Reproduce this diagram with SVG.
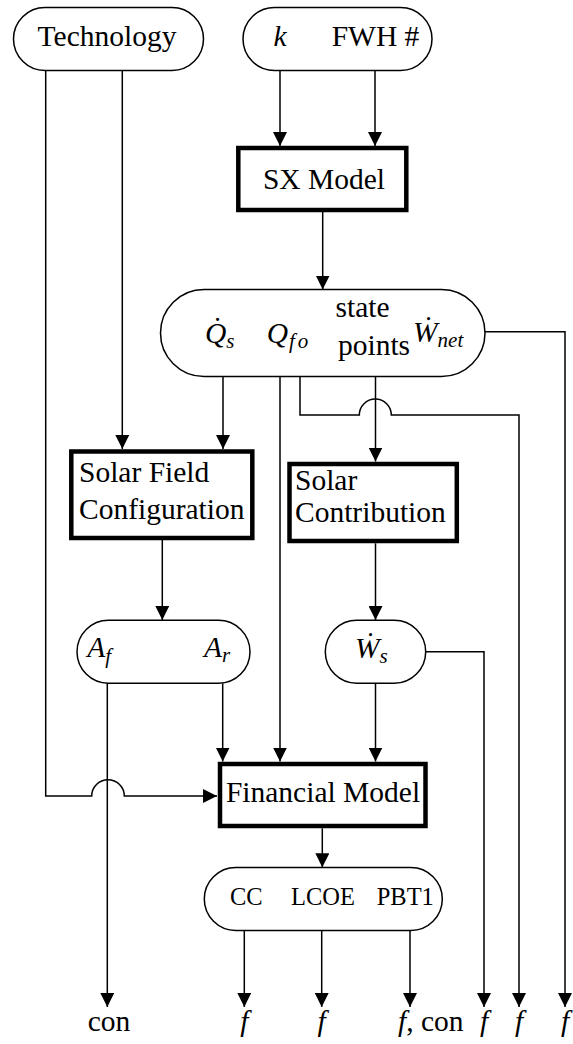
<svg xmlns="http://www.w3.org/2000/svg" width="573" height="1044" viewBox="0 0 573 1044">
<style>
text{font-family:'Liberation Serif','DejaVu Serif',serif;font-size:29.5px;fill:#000}
.it{font-style:italic}
.sub{font-size:21px;font-style:italic}
.sm{font-size:24.5px}
.term{fill:#fff;stroke:#000;stroke-width:1.5}
.proc{fill:#fff;stroke:#000;stroke-width:4.5}
.c{fill:none;stroke:#000;stroke-width:1.5}
.m{text-anchor:middle}
</style>
<defs>
<marker id="ar" markerUnits="userSpaceOnUse" markerWidth="14" markerHeight="14" viewBox="0 0 13 13" refX="13" refY="6.5" orient="auto">
<path d="M0,0 L13,6.5 L0,13 z" fill="#000"/>
</marker>
</defs>
<g id="connectors">
<path class="c" d="M45.7,70.7 V796 H91.7 A16.3,16.3 0 0 1 124.3,796 H217" marker-end="url(#ar)"/>
<path class="c" d="M122.3,70.7 V449" marker-end="url(#ar)"/>
<path class="c" d="M280,70.7 V146" marker-end="url(#ar)"/>
<path class="c" d="M375,70.7 V146" marker-end="url(#ar)"/>
<path class="c" d="M322.7,212 V289.5" marker-end="url(#ar)"/>
<path class="c" d="M223,376.7 V449" marker-end="url(#ar)"/>
<path class="c" d="M280,376.7 V761.5" marker-end="url(#ar)"/>
<path class="c" d="M300,376.7 V415 H359.3 A16,16 0 0 1 391.3,415 H519 V1007" marker-end="url(#ar)"/>
<path class="c" d="M375.5,376.7 V461.5" marker-end="url(#ar)"/>
<path class="c" d="M485,331.7 H565 V1007" marker-end="url(#ar)"/>
<path class="c" d="M162.3,540 V620" marker-end="url(#ar)"/>
<path class="c" d="M107.3,683.3 V1007" marker-end="url(#ar)"/>
<path class="c" d="M222.7,683.3 V761.5" marker-end="url(#ar)"/>
<path class="c" d="M375.5,543.3 V620" marker-end="url(#ar)"/>
<path class="c" d="M375.5,683.3 V761.5" marker-end="url(#ar)"/>
<path class="c" d="M425.7,651.7 H484 V1007" marker-end="url(#ar)"/>
<path class="c" d="M322.3,828.3 V867.3" marker-end="url(#ar)"/>
<path class="c" d="M244.3,930.7 V1007" marker-end="url(#ar)"/>
<path class="c" d="M321.7,930.7 V1007" marker-end="url(#ar)"/>
<path class="c" d="M410,930.7 V1007" marker-end="url(#ar)"/>
</g>
<g id="technology">
<rect class="term" x="13.5" y="7.5" width="190" height="63" rx="31.5"/>
<text class="m" x="107" y="46">Technology</text>
</g>
<g id="inputs">
<rect class="term" x="243" y="7.5" width="189" height="63" rx="31.5"/>
<text class="it" x="273.5" y="46">k</text>
<text x="331.7" y="45.5">FWH #</text>
</g>
<g id="sx-model">
<rect class="proc" x="238.3" y="148" width="168" height="62"/>
<text class="m" x="324" y="188.5">SX Model</text>
</g>
<g id="state">
<rect class="term" x="160.5" y="289.5" width="324.5" height="87" rx="43.5"/>
<text class="it" x="205" y="343">Q̇<tspan class="sub" dy="5">s</tspan></text>
<text class="it" x="266.7" y="343">Q<tspan class="sub" dx="1" dy="5">f</tspan><tspan class="sub" dx="3">o</tspan></text>
<text class="m" x="362.5" y="317">state</text>
<text class="m" x="374" y="355">points</text>
<text class="it" x="413" y="342">Ẇ<tspan class="sub" dy="5">net</tspan></text>
</g>
<g id="solar-field">
<rect class="proc" x="71.3" y="451.5" width="181" height="86.5"/>
<text x="79" y="481.7">Solar Field</text>
<text x="79" y="519.3">Configuration</text>
</g>
<g id="solar-contribution">
<rect class="proc" x="289.5" y="464" width="167.3" height="77"/>
<text x="295" y="490">Solar</text>
<text x="295" y="521.7">Contribution</text>
</g>
<g id="areas">
<rect class="term" x="77" y="620.3" width="173" height="63" rx="31.5"/>
<text class="it" x="87.3" y="657">A<tspan class="sub" dy="6">f</tspan></text>
<text class="it" x="204" y="657">A<tspan class="sub" dy="5">r</tspan></text>
</g>
<g id="ws">
<rect class="term" x="325.3" y="620.3" width="100.4" height="63" rx="31.5"/>
<text class="it" x="355" y="658.3">Ẇ<tspan class="sub" dy="5">s</tspan></text>
</g>
<g id="financial-model">
<rect class="proc" x="220" y="764" width="205.5" height="62"/>
<text class="m" x="323" y="801.7">Financial Model</text>
</g>
<g id="outputs">
<rect class="term" x="204.3" y="867.5" width="238" height="63" rx="31.5"/>
<text class="sm" x="230" y="905">CC</text>
<text class="sm" x="291" y="905">LCOE</text>
<text class="sm" x="376.7" y="905">PBT1</text>
</g>
<g id="labels">
<text class="m" x="109" y="1031">con</text>
<text class="it m" x="244.3" y="1031">f</text>
<text class="it m" x="321.7" y="1031">f</text>
<text x="398" y="1031"><tspan class="it">f</tspan>, con</text>
<text class="it m" x="484" y="1031">f</text>
<text class="it m" x="519" y="1031">f</text>
<text class="it m" x="565" y="1031">f</text>
</g>
</svg>
